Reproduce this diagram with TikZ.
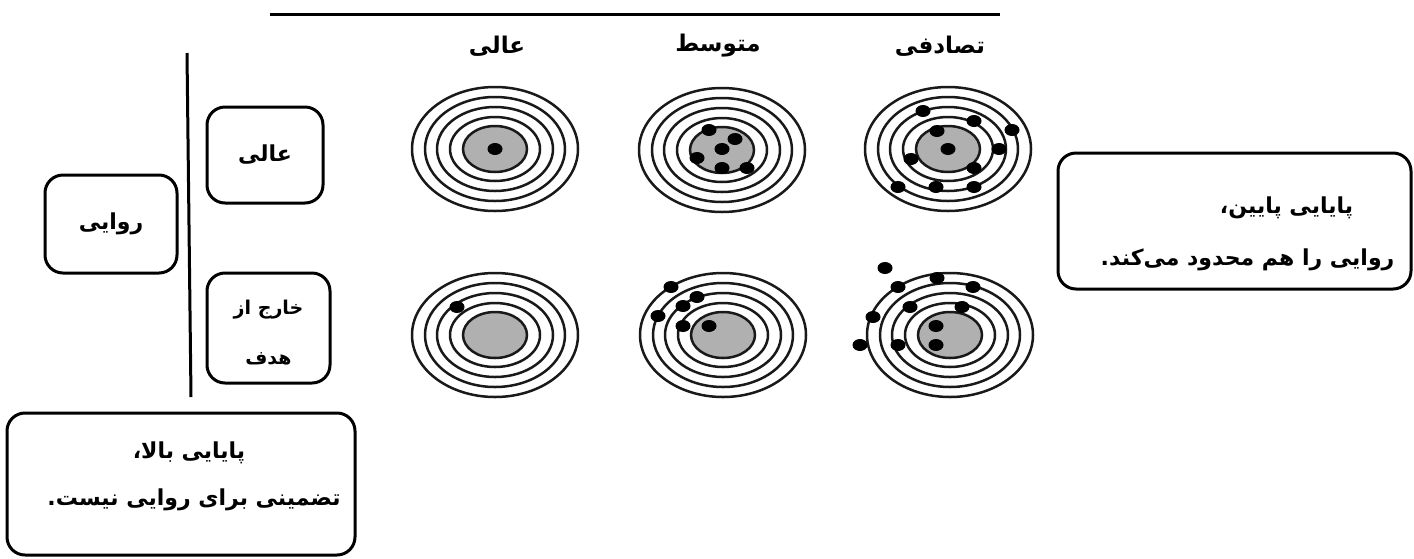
\documentclass[tikz,border=0pt]{standalone}
\usepackage{fontspec}
\newfontfamily\fa[Script=Arabic]{DejaVu Sans}
\TeXXeTstate=1
\usetikzlibrary{calc}
% right-to-left run of Persian text
\newcommand\rl[1]{{\beginR #1\endR}}
% one target: four rings and a grey bull's-eye
\newcommand\drawtarget[1]{%
  \foreach \a/\b in {83/62,70/52,58/42,45/32}
    \draw[ring] (#1) ellipse [x radius=\a, y radius=\b];
  \draw[ring, fill=diskgray] (#1) ellipse [x radius=32, y radius=23];
}
% hits, given relative to a target centre
\newcommand\shots[2]{%
  \foreach \p in {#2}
    \fill (#1) ++(\p) ellipse [x radius=7.5, y radius=6];
}
\definecolor{diskgray}{RGB}{176,176,176}

\begin{document}
\begin{tikzpicture}[x=1pt, y=-1pt,
  rbox/.style={draw, line width=3pt, rounded corners=18pt, inner sep=0pt, align=center},
  ring/.style={line width=2.5pt, draw=black!90},
  fatxt/.style={font=\fa\bfseries\fontsize{22}{26}\selectfont, inner sep=0pt},
  hdtxt/.style={font=\fa\bfseries\fontsize{23}{26}\selectfont, inner sep=0pt},
  rule/.style={line width=3pt}]
\useasboundingbox (0,0) rectangle (1414,558);

% header rule and column titles
\coordinate (ha) at (270,14);
\coordinate (hb) at (1000,14);
\draw[rule] (ha) -- (hb);
\node[hdtxt] (c3) at (940,46) {\rl{تصادفی}};
\node[hdtxt] (c2) at (718,46) {\rl{متوسط}};
\node[hdtxt] (c1) at (497,46) {\rl{عالی}};

% row separator
\coordinate (va) at (187,53);
\coordinate (vb) at (191,397);
\draw[rule] (va) -- (vb);

% row labels
\node[rbox, fatxt, minimum width=132pt, minimum height=98pt] (val) at (111,224) {\rl{روایی}};
\node[rbox, fatxt, minimum width=116pt, minimum height=96pt] (hi) at (265,155) {\rl{عالی}};
\node[rbox, minimum width=123pt, minimum height=110pt] (off) at (268.5,328) {};
\node[fatxt, font=\fa\bfseries\fontsize{19}{22}\selectfont] (off1) at ($(off.center)+(0,-18)$) {\rl{خارج از}};
\node[fatxt, font=\fa\bfseries\fontsize{19}{22}\selectfont] (off2) at ($(off.center)+(0,31)$) {\rl{هدف}};

% targets
\coordinate (t11) at (495,149);
\coordinate (t12) at (722,150);
\coordinate (t13) at (948,149);
\coordinate (t21) at (495,335);
\coordinate (t22) at (723,335);
\coordinate (t23) at (950,335);
\foreach \t in {t11,t12,t13,t21,t22,t23} {\drawtarget{\t}}

\shots{t11}{{0,0}}
\shots{t12}{{-13,-20},{13,-11},{0,-1},{-25,8},{0,18},{25,18}}
\shots{t13}{{-25,-38},{26,-28},{64,-19},{-11,-18},{0,0},{51,0},{-37,10},{26,19},{-50,38},{-12,38},{26,38}}
\shots{t21}{{-38,-28}}
\shots{t22}{{-52,-48},{-26,-38},{-40,-29},{-65,-19},{-40,-9},{-14,-9}}
\shots{t23}{{-65,-67},{-13,-57},{-52,-48},{23,-48},{-40,-28},{12,-28},{-77,-18},{-14,-9},{-90,10},{-52,10},{-14,10}}

% notes
\node[rbox, minimum width=353pt, minimum height=136pt] (low) at (1234.5,221) {};
\node[fatxt] (low1) at ($(low.center)+(52,-13)$) {\rl{پایایی پایین،}};
\node[fatxt] (low2) at ($(low.center)+(13,39)$) {\rl{روایی را هم محدود می‌کند.}};

\node[rbox, minimum width=348pt, minimum height=142pt] (high) at (181,484) {};
\node[fatxt] (high1) at ($(high.center)+(8,-31)$) {\rl{پایایی بالا،}};
\node[fatxt] (high2) at ($(high.center)+(13,16)$) {\rl{تضمینی برای روایی نیست.}};
\end{tikzpicture}
\end{document}
